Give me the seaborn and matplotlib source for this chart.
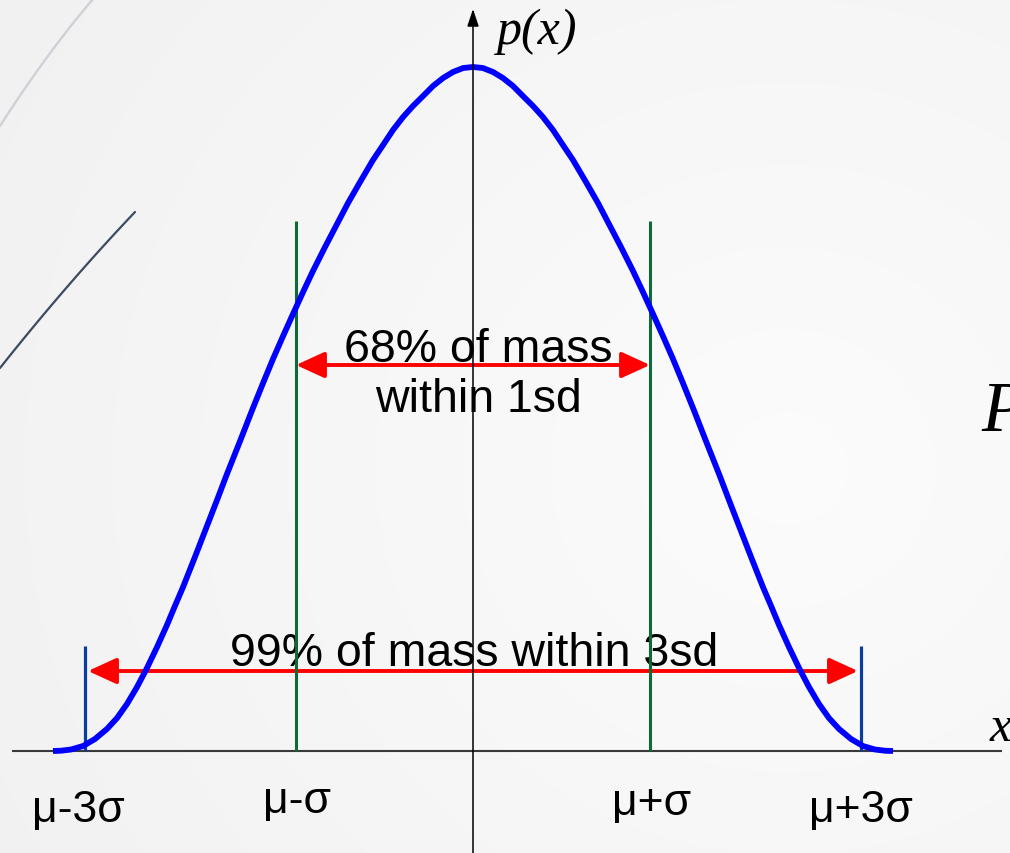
import numpy as np
import matplotlib
matplotlib.use("Agg")
import matplotlib.pyplot as plt
import seaborn as sns

# Bell curve of the density p(x): x in sigma-mark units (mu at 0), height relative to the peak
curve_x = [-2.373, -2.328, -2.271, -2.203, -2.136, -2.068, -2.011, -1.955, -1.898, -1.842,
           -1.785, -1.729, -1.684, -1.638, -1.571, -1.503, -1.446, -1.390, -1.316, -1.243,
           -1.186, -1.130, -1.073, -1.017, -0.960, -0.904, -0.836, -0.768, -0.706, -0.638,
           -0.565, -0.508, -0.452, -0.395, -0.339, -0.282, -0.226, -0.169, -0.113, -0.056,
           0.000,
           0.056, 0.113, 0.169, 0.226, 0.282, 0.339, 0.395, 0.452, 0.508, 0.565,
           0.638, 0.706, 0.768, 0.836, 0.904, 0.960, 1.017, 1.073, 1.130, 1.186,
           1.243, 1.316, 1.390, 1.446, 1.503, 1.571, 1.638, 1.684, 1.729, 1.785,
           1.842, 1.898, 1.955, 2.011, 2.068, 2.136, 2.203, 2.271, 2.328, 2.373]
curve_y = [0.0000, 0.0004, 0.0022, 0.0073, 0.0175, 0.0322, 0.0482, 0.0687, 0.0936, 0.1213,
           0.1520, 0.1842, 0.2120, 0.2398, 0.2836, 0.3289, 0.3670, 0.4050, 0.4532, 0.5015,
           0.5380, 0.5731, 0.6067, 0.6389, 0.6711, 0.7018, 0.7368, 0.7705, 0.8012, 0.8319,
           0.8640, 0.8860, 0.9079, 0.9269, 0.9430, 0.9576, 0.9722, 0.9839, 0.9927, 0.9985,
           1.0000,
           0.9985, 0.9927, 0.9839, 0.9722, 0.9576, 0.9430, 0.9269, 0.9079, 0.8860, 0.8640,
           0.8319, 0.8012, 0.7705, 0.7368, 0.7018, 0.6711, 0.6389, 0.6067, 0.5731, 0.5380,
           0.5015, 0.4532, 0.4050, 0.3670, 0.3289, 0.2836, 0.2398, 0.2120, 0.1842, 0.1520,
           0.1213, 0.0936, 0.0687, 0.0482, 0.0322, 0.0175, 0.0073, 0.0022, 0.0004, 0.0000]

# Sigma marks along the x axis
sigma_labels = ["μ-3σ", "μ-σ", "μ+σ", "μ+3σ"]
sigma_pos = [-2.19, -1.0, 1.0, 2.19]
one_sd = 1.0
three_sd = 2.19

# Annotations for the two bands
one_sd_text = ["68% of mass", "within 1sd"]
three_sd_text = "99% of mass within 3sd"

sns.set_theme(style="white")
plt.rcParams["font.family"] = ["Liberation Sans", "DejaVu Sans"]

W, H = 1010, 854
fig = plt.figure(figsize=(W / 100, H / 100), dpi=100)
ax = fig.add_axes([0, 0, 1, 1])

# data <-> layout scale: 177 px per sigma mark, 684 px per unit height
x0, y0 = 473, 752
sx, sy = 177.0, 684.0
xlim = (-x0 / sx, (W - x0) / sx)
ylim = (-(H - y0) / sy, y0 / sy)
ax.set_xlim(*xlim)
ax.set_ylim(*ylim)
ax.axis("off")


def px(x):
    return (x - x0) / sx


def py(y):
    return (y0 - y) / sy


# soft slide background
gx, gy = np.meshgrid(np.linspace(0, 1, 300), np.linspace(0, 1, 260))
dist = np.sqrt((gx - 0.78) ** 2 + ((gy - 0.55) * 0.9) ** 2)
shade = np.clip(0.987 - 0.045 * dist, 0.93, 0.99)
ax.imshow(np.dstack([shade, shade, shade]), extent=(*xlim, *ylim), aspect="auto",
          origin="upper", zorder=0, interpolation="bicubic")

# decorative slide strokes (gentle arcs at the top-left corner)
t = np.linspace(0, 1, 30)
gxs = 93 * t
gys = 127 - 127 * t - 18 * t * (1 - t)
fig.add_artist(plt.Line2D(gxs / W, 1 - gys / H, color="#cfd1d7", lw=1.7, zorder=1))
dxs = 135 * t
dys = 369 - 156 * t - 14 * t * (1 - t)
fig.add_artist(plt.Line2D(dxs / W, 1 - dys / H, color="#3d4b60", lw=1.6, zorder=1))

# x axis
ax.plot([px(12), px(1002)], [0, 0], color="#3a3a3a", lw=1.5, zorder=3, solid_capstyle="butt")
# y axis with arrow head
ax.annotate("", xy=(0, py(10)), xytext=(0, ylim[0]),
            arrowprops=dict(arrowstyle="-|>,head_length=1.05,head_width=0.35",
                            mutation_scale=10, color="black", lw=1.1,
                            shrinkA=0, shrinkB=0), zorder=6)

# band text
ax.text(px(478), py(362), one_sd_text[0], ha="center", va="baseline", fontsize=33.5,
        color="black", zorder=2)
ax.text(px(478), py(412), one_sd_text[1], ha="center", va="baseline", fontsize=33.5,
        color="black", zorder=2)
ax.text(px(474), py(666), three_sd_text, ha="center", va="baseline", fontsize=33.5,
        color="black", zorder=2)

# double-headed band arrows
arrow_style = "<|-|>,head_length=1.75,head_width=0.8"
for half, yv in [(one_sd, py(366)), (three_sd - 0.015, py(672))]:
    ax.annotate("", xy=(half, yv), xytext=(-half, yv),
                arrowprops=dict(arrowstyle=arrow_style, mutation_scale=10,
                                color="#ff0000", lw=2.8, shrinkA=0, shrinkB=0),
                zorder=3)

# sigma marker lines
for pos in sigma_pos:
    if abs(pos) == one_sd:
        ax.plot([pos, pos], [0, py(222)], color="#0e6b37", lw=2.2, zorder=4,
                solid_capstyle="butt")
    else:
        ax.plot([pos, pos], [0, py(647)], color="#0b3d9c", lw=2.3, zorder=4,
                solid_capstyle="butt")

# density curve
sns.lineplot(x=curve_x, y=curve_y, ax=ax, color="#0000ff", lw=4.2, sort=False,
             zorder=5, solid_joinstyle="round", solid_capstyle="butt")

# sigma labels under the axis
label_x = {"μ-3σ": px(78), "μ-σ": px(297), "μ+σ": px(652), "μ+3σ": px(861)}
label_base = {"μ-3σ": py(822), "μ-σ": py(813), "μ+σ": py(815), "μ+3σ": py(822)}
for lab in sigma_labels:
    ax.text(label_x[lab], label_base[lab], lab, ha="center", va="baseline",
            fontsize=32, color="black", zorder=6)

# axis titles in serif italic
serif = ["Liberation Serif", "DejaVu Serif"]
ax.text(px(497), py(44), "p(x)", ha="left", va="baseline", fontsize=36,
        family=serif, style="italic", color="black", zorder=6)
ax.text(px(990), py(741), "x", ha="left", va="baseline", fontsize=36,
        family=serif, style="italic", color="black", zorder=6)
ax.text(px(981), py(431), "P", ha="left", va="baseline", fontsize=51,
        family=serif, style="italic", color="black", zorder=6)

fig.savefig("out.png", dpi=100)
